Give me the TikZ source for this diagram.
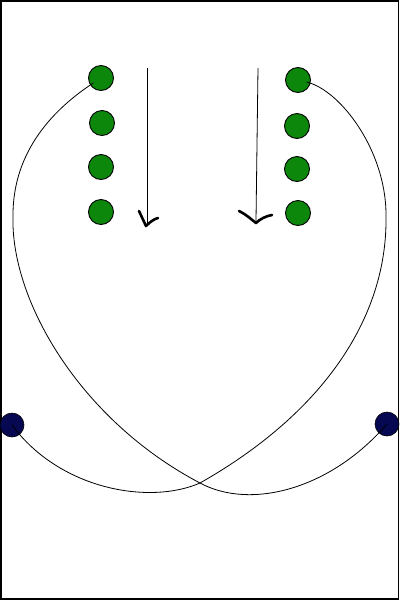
\documentclass[tikz,border=0pt]{standalone}
\usetikzlibrary{calc}
\definecolor{dotgreen}{RGB}{12,135,12}
\definecolor{dotnavy}{RGB}{6,8,82}
\tikzset{
  gdot/.style={circle,draw=black,line width=0.9pt,fill=dotgreen,minimum size=25pt,inner sep=0pt},
  ndot/.style={circle,draw=black,line width=0.6pt,fill=dotnavy,minimum size=24pt,inner sep=0pt},
  path/.style={draw=black,line width=0.8pt},
  stem/.style={draw=black,line width=0.8pt},
  tip/.style={draw=black,line width=2.6pt,line cap=round,line join=round}
}
\begin{document}
\begin{tikzpicture}[x=1pt,y=-1pt]
\useasboundingbox (0,0) rectangle (400,600);
\draw[line width=1.6pt] (0.8,0.8) rectangle (398.6,598.8);
% dots
\node[gdot] (gL1) at (101,78) {};
\node[gdot] (gL2) at (102,123) {};
\node[gdot] (gL3) at (101,167) {};
\node[gdot] (gL4) at (101,212) {};
\node[gdot] (gR1) at (298,80) {};
\node[gdot] (gR2) at (297,126) {};
\node[gdot] (gR3) at (297,169) {};
\node[gdot] (gR4) at (298,213) {};
\node[ndot] (nL) at (12,425) {};
\node[ndot] (nR) at (387,424) {};
% curves
\draw[path,shorten <=9pt] (gL1.center) .. controls (55,108) and (13,150) .. (13,215)
  .. controls (10,300) and (80,420) .. (200,483)
  .. controls (250,510) and (330,490) .. (nR.center);
\draw[path,shorten <=9pt] (gR1.center) .. controls (340,90) and (386,150) .. (386,215)
  .. controls (388,320) and (320,415) .. (200,483)
  .. controls (150,505) and (60,490) .. (nL.center);
% arrows
\coordinate (a1s) at (147,68);
\coordinate (a1e) at (147,224);
\coordinate (a2s) at (258,68);
\coordinate (a2e) at (256,221);
\draw[stem] (a1s) -- (a1e);
\draw[stem] (a2s) -- (a2e);
\draw[tip] (139,211) -- (146,226) .. controls (150,222) and (154,219) .. (158,218);
\draw[tip] (239,211) .. controls (247,215) and (252,220) .. (256,223) .. controls (260,219) and (266,216) .. (272,215);
\end{tikzpicture}
\end{document}
